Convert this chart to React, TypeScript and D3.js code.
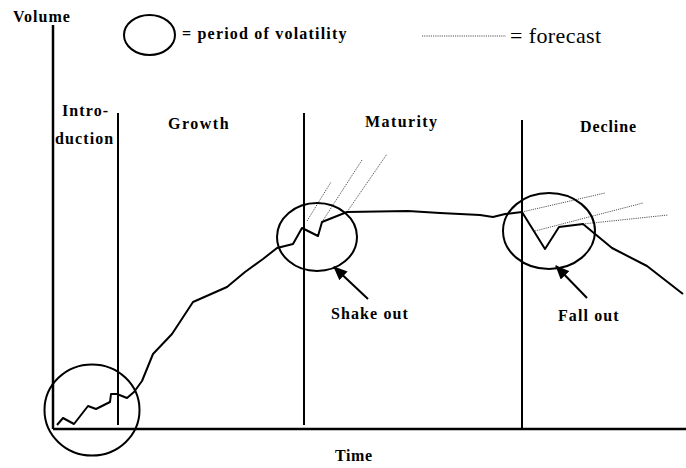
import * as d3 from 'd3';

// time (x) and volume (y), in axis units
const curveTime = [4, 10, 21, 35, 43, 57, 58, 64, 74, 81, 89, 100, 119, 140, 174, 192, 210, 224, 240, 249, 265, 269, 294, 355, 387, 427, 440, 452, 469, 492, 506, 530, 559, 594, 630];
const curveVolume = [4, 11, 5, 23, 20, 27, 35, 35, 31, 37, 48, 75, 95, 127, 142, 157, 170, 181, 185, 201, 193, 207, 217, 218, 216, 214, 212, 215, 217, 180, 202, 205, 181, 163, 135];

// forecast lines: [t0, v0, t1, v1]
const forecasts: [number, number, number, number][] = [
    [254, 208, 278, 247],
    [269, 207, 309, 269],
    [294, 217, 334, 275],
    [469, 217, 552, 236],
    [482, 198, 590, 226],
    [530, 205, 615, 214],
];

// periods of volatility: [t, v, rx, ry]
const volatility: [number, number, number, number][] = [
    [39, 19, 47.5, 45.5],
    [264, 192, 40, 34],
    [496, 198, 46, 38],
];

// phase boundaries (time) and their top (volume)
const phaseBounds = [65, 251, 469];
const phaseTops = [316, 316, 309];

const phaseNames = ['Growth', 'Maturity', 'Decline'];

// annotation arrows: [fromT, fromV, toT, toV]
const arrows: [number, number, number, number][] = [
    [315, 130, 281, 162],
    [534, 131, 503, 163],
];
const arrowLabels = ['Shake out', 'Fall out'];

const W = 686;
const H = 468;

const x = d3.scaleLinear().domain([0, 633]).range([53, 686]);
const y = d3.scaleLinear().domain([0, 400]).range([429, 29]);

const font = 'Liberation Serif, Times New Roman, Times, serif';

export default function App() {
    const pts = curveTime.map((t, i) => [t, curveVolume[i]] as [number, number]);
    const line = d3.line<[number, number]>()
        .x(d => x(d[0]))
        .y(d => y(d[1]));

    const T = (props: { x: number; y: number; ls?: number; size?: number; normal?: boolean; children: string }) => (
        <text x={props.x} y={props.y} fontFamily={font} fontWeight={props.normal ? 400 : 700}
            fontSize={props.size ?? 16} letterSpacing={props.ls ?? 1.1} fill="#000">
            {props.children}
        </text>
    );

    return (
        <svg width={W} height={H} style={{ position: 'absolute', left: 0, top: 0, background: '#fff' }}>
            <defs>
                <marker id="head" markerUnits="userSpaceOnUse" markerWidth={14} markerHeight={12}
                    refX={13} refY={6} orient="auto">
                    <path d="M0,0 L14,6 L0,12 Z" fill="#000" />
                </marker>
            </defs>

            {/* axes */}
            <line x1={x(0)} y1={y(404)} x2={x(0)} y2={y(0)} stroke="#000" strokeWidth={2.5} />
            <line x1={x(0)} y1={y(0)} x2={W} y2={y(0)} stroke="#000" strokeWidth={2.5} />

            {/* phase separators */}
            {phaseBounds.map((t, i) => (
                <line key={i} x1={x(t)} x2={x(t)} y1={y(phaseTops[i])} y2={y(i === 2 ? 0 : 4)}
                    stroke="#000" strokeWidth={2} />
            ))}

            {/* forecasts */}
            {forecasts.map((f, i) => (
                <line key={i} x1={x(f[0])} y1={y(f[1])} x2={x(f[2])} y2={y(f[3])}
                    stroke="#555" strokeWidth={1} strokeDasharray="1.2 1" />
            ))}

            {/* volume curve */}
            <path d={line(pts) ?? ''} fill="none" stroke="#000" strokeWidth={2} strokeLinejoin="round" />

            {/* volatility circles */}
            {volatility.map((c, i) => (
                <ellipse key={i} cx={x(c[0])} cy={y(c[1])} rx={x(c[0] + c[2]) - x(c[0])}
                    ry={y(c[1]) - y(c[1] + c[3])} fill="none" stroke="#000" strokeWidth={2} />
            ))}

            {/* arrows */}
            {arrows.map((a, i) => (
                <line key={i} x1={x(a[0])} y1={y(a[1])} x2={x(a[2])} y2={y(a[3])}
                    stroke="#000" strokeWidth={2} markerEnd="url(#head)" />
            ))}
            <T x={331} y={319}>{arrowLabels[0]}</T>
            <T x={558} y={321}>{arrowLabels[1]}</T>

            {/* phase labels */}
            <T x={62} y={116}>Intro-</T>
            <T x={55} y={144}>duction</T>
            <T x={168} y={129} ls={1.5}>{phaseNames[0]}</T>
            <T x={365} y={127} ls={1.4}>{phaseNames[1]}</T>
            <T x={580} y={132} ls={0.9}>{phaseNames[2]}</T>

            {/* axis titles */}
            <T x={13} y={22} ls={1}>Volume</T>
            <T x={335} y={461} ls={0.6}>Time</T>

            {/* legend */}
            <ellipse cx={149.5} cy={35} rx={25.5} ry={20} fill="none" stroke="#000" strokeWidth={2} />
            <T x={182} y={39} ls={1.2}>= period of volatility</T>
            <line x1={422} y1={36} x2={506} y2={36} stroke="#555" strokeWidth={1} strokeDasharray="1.2 1" />
            <T x={510} y={43} size={22} ls={0.4} normal>= forecast</T>
        </svg>
    );
}
